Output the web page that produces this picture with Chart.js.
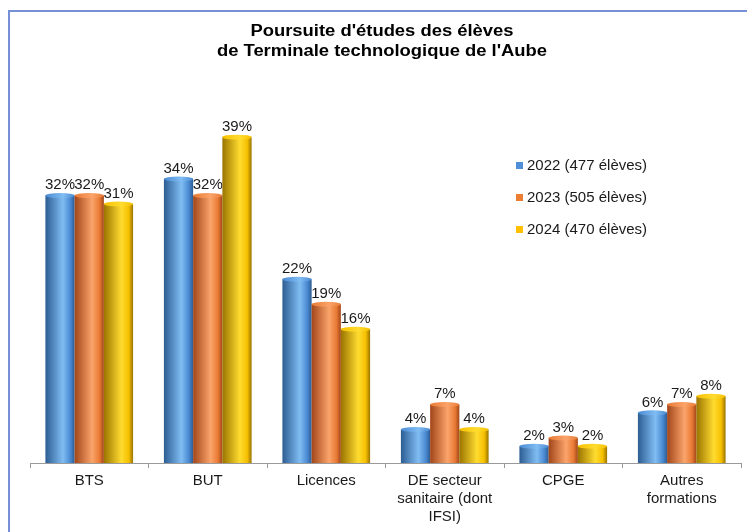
<!DOCTYPE html>
<html>
<head>
<meta charset="utf-8">
<script src="https://cdn.jsdelivr.net/npm/chart.js@4.4.1/dist/chart.umd.min.js"></script>
<style>
  html, body { margin: 0; padding: 0; background: #fff; }
  #wrap { position: relative; width: 747px; height: 532px; overflow: hidden; }
  #frame { position: absolute; left: 8px; top: 10px; width: 800px; height: 600px; border: 2px solid #7590d6; }
  canvas { position: absolute; left: 0; top: 0; }
</style>
</head>
<body>
<div id="wrap">
  <div id="frame"></div>
  <canvas id="myChart" width="747" height="532"></canvas>
</div>
<script>
// donnees (en %)
var categories = ['BTS', 'BUT', 'Licences', ['DE secteur', 'sanitaire (dont', 'IFSI)'], 'CPGE', ['Autres', 'formations']];
var labels2022 = '2022 (477 élèves)';
var labels2023 = '2023 (505 élèves)';
var labels2024 = '2024 (470 élèves)';
var values2022 = [32, 34, 22, 4, 2, 6];
var values2023 = [32, 32, 19, 7, 3, 7];
var values2024 = [31, 39, 16, 4, 2, 8];
var titleLines = ["Poursuite d'études des élèves", "de Terminale technologique de l'Aube"];

// couleurs : sombre (bord), clair (reflet), base
var palettes = [
  { dark: '#2c5d93', light: '#80bdf3', base: '#4a8ad2', swatch: '#4f8fd8' },
  { dark: '#a2461a', light: '#fba46b', base: '#e97a34', swatch: '#ed7d31' },
  { dark: '#9a7400', light: '#ffdc30', base: '#f6c000', swatch: '#ffc000' }
];

var FONT = '"Liberation Sans", Arial, sans-serif';

function wideText(ctx, txt, x, y, sx) {
  ctx.save();
  ctx.translate(x, y);
  ctx.scale(sx || 1, 1);
  ctx.fillText(txt, 0, 0);
  ctx.restore();
}

// dessine les barres en "cylindre" par dessus les rectangles de Chart.js
var cylinderPlugin = {
  id: 'cylinder',
  afterDatasetsDraw: function(chart) {
    var ctx = chart.ctx;
    chart.data.datasets.forEach(function(ds, i) {
      var meta = chart.getDatasetMeta(i);
      var p = palettes[i];
      meta.data.forEach(function(bar, j) {
        var pr = bar.getProps(['x', 'y', 'base', 'width'], true);
        var l = pr.x - pr.width / 2, r = pr.x + pr.width / 2;
        var g = ctx.createLinearGradient(l, 0, r, 0);
        g.addColorStop(0, p.dark);
        g.addColorStop(0.6, p.light);
        g.addColorStop(0.85, p.base);
        g.addColorStop(1, p.dark);
        ctx.save();
        ctx.fillStyle = g;
        ctx.fillRect(l, pr.y, pr.width, pr.base - pr.y);
        // petit chapeau en haut
        var g2 = ctx.createLinearGradient(l, 0, r, 0);
        g2.addColorStop(0, p.base);
        g2.addColorStop(0.6, p.light);
        g2.addColorStop(1, p.base);
        ctx.fillStyle = g2;
        ctx.beginPath();
        ctx.ellipse(pr.x, pr.y, pr.width / 2, 2.5, 0, 0, Math.PI * 2);
        ctx.fill();
        // valeur
        ctx.fillStyle = '#1a1a1a';
        ctx.font = '15px ' + FONT;
        ctx.textAlign = 'center';
        ctx.textBaseline = 'bottom';
        ctx.fillText(ds.data[j] + '%', pr.x, pr.y - 3);
        ctx.restore();
      });
    });
  }
};

// titre, legende et libelles de l'axe x
var decoPlugin = {
  id: 'deco',
  afterDraw: function(chart) {
    var ctx = chart.ctx;
    ctx.save();
    ctx.fillStyle = '#000';
    ctx.font = 'bold 16px ' + FONT;
    ctx.textAlign = 'center';
    ctx.textBaseline = 'middle';
    wideText(ctx, titleLines[0], 382, 32, 1.15);
    wideText(ctx, titleLines[1], 382, 52, 1.15);

    ctx.font = '15px ' + FONT;
    ctx.textAlign = 'left';
    chart.data.datasets.forEach(function(ds, i) {
      var y = 166 + i * 32;
      ctx.fillStyle = palettes[i].swatch;
      ctx.fillRect(516, y - 4, 7, 7);
      ctx.fillStyle = '#1a1a1a';
      ctx.fillText(ds.label, 527, y);
    });

    var xs = chart.scales.x;
    ctx.textAlign = 'center';
    ctx.textBaseline = 'top';
    categories.forEach(function(c, k) {
      var lines = Array.isArray(c) ? c : [c];
      var x = xs.getPixelForTick(k);
      lines.forEach(function(t, n) {
        ctx.fillText(t, x, xs.top + 10 + n * 18);
      });
    });
    ctx.restore();
  }
};

var ctx = document.getElementById('myChart');

var myChart = new Chart(ctx, {
  type: 'bar',
  data: {
    labels: categories,
    datasets: [
      { label: labels2022, data: values2022, backgroundColor: 'rgba(0,0,0,0)' },
      { label: labels2023, data: values2023, backgroundColor: 'rgba(0,0,0,0)' },
      { label: labels2024, data: values2024, backgroundColor: 'rgba(0,0,0,0)' }
    ]
  },
  options: {
    responsive: false,
    animation: false,
    events: [],
    layout: { padding: { top: 87, left: 30, right: 6, bottom: 0 } },
    datasets: { bar: { categoryPercentage: 0.74, barPercentage: 1 } },
    plugins: {
      legend: { display: false },
      title: { display: false },
      tooltip: { enabled: false }
    },
    scales: {
      y: { display: false, min: 0, max: 45 },
      x: {
        afterFit: function(scale) { scale.height = 69; },
        grid: { offset: true, drawOnChartArea: false, color: '#9a9a9a', tickLength: 5 },
        border: { color: '#9a9a9a', width: 1 },
        ticks: { color: 'rgba(0,0,0,0)', font: { family: FONT, size: 13 }, padding: 4, maxRotation: 0, autoSkip: false }
      }
    }
  },
  plugins: [cylinderPlugin, decoPlugin]
});
</script>
</body>
</html>
